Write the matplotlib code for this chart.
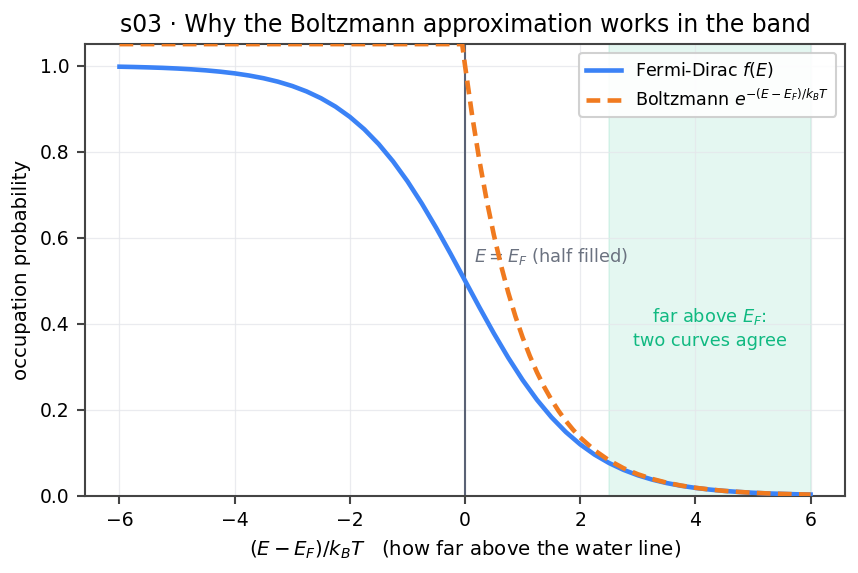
import matplotlib
matplotlib.use("Agg")
import matplotlib.pyplot as plt

# x samples, (E - E_F)/k_B T
x_fd = [-6, -5.75, -5.5, -5.25, -5, -4.75, -4.5, -4.25, -4, -3.75, -3.5, -3.25,
        -3, -2.75, -2.5, -2.25, -2, -1.75, -1.5, -1.25, -1, -0.75, -0.5, -0.25,
        0, 0.25, 0.5, 0.75, 1, 1.25, 1.5, 1.75, 2, 2.25, 2.5, 2.75, 3, 3.25,
        3.5, 3.75, 4, 4.25, 4.5, 4.75, 5, 5.25, 5.5, 5.75, 6]
fermi_dirac = [0.9975, 0.9968, 0.9959, 0.9948, 0.9933, 0.9914, 0.9890, 0.9859,
               0.9820, 0.9770, 0.9707, 0.9627, 0.9526, 0.9399, 0.9241, 0.9047,
               0.8808, 0.8520, 0.8176, 0.7773, 0.7311, 0.6792, 0.6225, 0.5622,
               0.5000, 0.4378, 0.3775, 0.3208, 0.2689, 0.2227, 0.1824, 0.1480,
               0.1192, 0.0953, 0.0759, 0.0601, 0.0474, 0.0373, 0.0293, 0.0230,
               0.0180, 0.0141, 0.0110, 0.0086, 0.0067, 0.0052, 0.0041, 0.0032,
               0.0025]

x_b = [-6, -4, -2, -1, -0.05, 0, 0.125, 0.25, 0.375, 0.5, 0.625, 0.75, 0.875,
       1, 1.125, 1.25, 1.375, 1.5, 1.625, 1.75, 1.875, 2, 2.25, 2.5, 2.75, 3,
       3.25, 3.5, 3.75, 4, 4.25, 4.5, 4.75, 5, 5.25, 5.5, 5.75, 6]
boltzmann = [1.05, 1.05, 1.05, 1.05, 1.05, 1.0, 0.8825, 0.7788, 0.6873, 0.6065,
             0.5353, 0.4724, 0.4169, 0.3679, 0.3247, 0.2865, 0.2528, 0.2231,
             0.1969, 0.1738, 0.1534, 0.1353, 0.1054, 0.0821, 0.0639, 0.0498,
             0.0388, 0.0302, 0.0235, 0.0183, 0.0143, 0.0111, 0.0087, 0.0067,
             0.0052, 0.0041, 0.0032, 0.0025]

band_region = (2.5, 6)

fig, ax = plt.subplots(figsize=(5.72, 3.82), dpi=150)
fig.subplots_adjust(left=0.099, right=0.985, top=0.923, bottom=0.135)

ax.axvspan(band_region[0], band_region[1], color="#10b981", alpha=0.11, lw=0.8, zorder=0)
ax.axvline(0, color="#5a6275", lw=1.0, zorder=1)
ax.plot(x_fd, fermi_dirac, color="#3b82f6", lw=2.2, label="Fermi-Dirac $f(E)$", zorder=3)
ax.plot(x_b, boltzmann, color="#f07a1f", lw=2.2, ls=(0, (3.0, 1.6)),
        label="Boltzmann $e^{-(E-E_F)/k_BT}$", zorder=4)

ax.text(0.15, 0.555, "$E = E_F$ (half filled)", color="#6b7280", fontsize=8.5,
        va="center", ha="left")
ax.text(4.25, 0.39, "far above $E_F$:\ntwo curves agree", color="#10b981",
        fontsize=8.5, ha="center", va="center", linespacing=1.3)

ax.set_xlim(-6.6, 6.6)
ax.set_ylim(0, 1.05)
ax.set_xticks([-6, -4, -2, 0, 2, 4, 6])
ax.set_yticks([0.0, 0.2, 0.4, 0.6, 0.8, 1.0])
ax.grid(True, color="#e5e7eb", lw=0.6, alpha=0.8)
ax.set_axisbelow(True)
for s in ax.spines.values():
    s.set_color("#444444")
    s.set_linewidth(1.0)
ax.tick_params(direction="out", length=4, width=1, color="#444444", labelsize=9)

ax.set_xlabel("$(E-E_F)/k_BT$   (how far above the water line)", fontsize=9.5)
ax.set_ylabel("occupation probability", fontsize=9.5)
ax.set_title("s03 · Why the Boltzmann approximation works in the band", fontsize=11.3)

leg = ax.legend(loc="upper right", fontsize=8.4, frameon=True, fancybox=True,
                framealpha=0.9, edgecolor="#cccccc")

fig.savefig("out.png", dpi=150)
